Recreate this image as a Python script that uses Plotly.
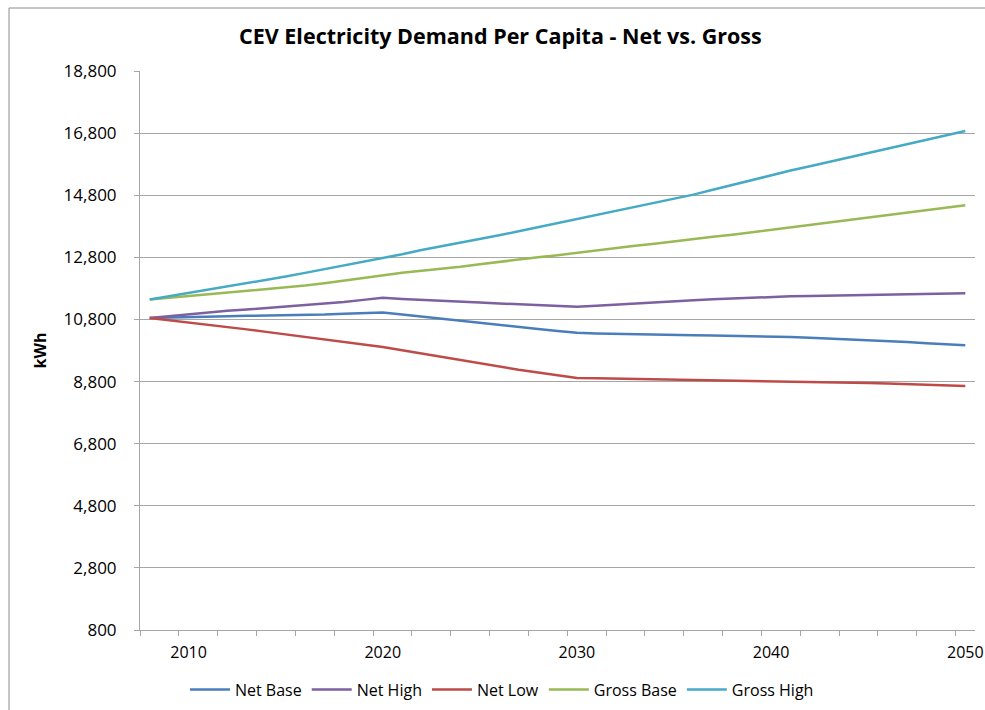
import plotly.graph_objects as go

years = list(range(2008, 2051))

net_base = [10850, 10870, 10890, 10900, 10906, 10915, 10925, 10930, 10940, 10960,
            10985, 11005, 11026, 10960, 10890, 10820, 10750, 10685, 10616, 10555,
            10490, 10430, 10368, 10350, 10335, 10320, 10310, 10300, 10294, 10285,
            10277, 10270, 10261, 10235, 10210, 10185, 10160, 10132, 10100, 10070,
            10035, 10000, 9971]
net_high = [10850, 10910, 10970, 11020, 11077, 11120, 11170, 11215, 11260, 11300,
            11360, 11430, 11497, 11460, 11425, 11400, 11370, 11345, 11316, 11290,
            11265, 11235, 11206, 11240, 11280, 11320, 11360, 11390, 11420, 11450,
            11475, 11500, 11530, 11545, 11555, 11565, 11575, 11585, 11595, 11605,
            11620, 11635, 11640]
net_low = [10850, 10780, 10700, 10630, 10561, 10480, 10400, 10320, 10239, 10140,
           10060, 9990, 9916, 9810, 9703, 9600, 9490, 9380, 9271, 9180,
           9090, 9000, 8916, 8905, 8895, 8890, 8880, 8872, 8865, 8855,
           8845, 8832, 8820, 8808, 8795, 8782, 8770, 8755, 8735, 8715,
           8695, 8675, 8658]
gross_base = [11445, 11500, 11555, 11605, 11655, 11710, 11765, 11825, 11890, 11965,
              12050, 12140, 12230, 12300, 12370, 12430, 12500, 12580, 12660, 12730,
              12800, 12870, 12950, 13020, 13090, 13170, 13240, 13320, 13390, 13460,
              13530, 13610, 13700, 13770, 13850, 13930, 14010, 14090, 14160, 14240,
              14320, 14400, 14477]
gross_high = [11445, 11550, 11650, 11750, 11850, 11960, 12070, 12180, 12300, 12420,
              12530, 12650, 12770, 12900, 13035, 13150, 13270, 13390, 13510, 13640,
              13770, 13900, 14026, 14150, 14280, 14410, 14550, 14690, 14820, 14975,
              15130, 15290, 15455, 15595, 15735, 15875, 16015, 16155, 16295, 16435,
              16575, 16720, 16865]

series_names = ["Net Base", "Net High", "Net Low", "Gross Base", "Gross High"]
series_vals = [net_base, net_high, net_low, gross_base, gross_high]
colors = ["#4A7EBB", "#7D60A0", "#BE4B48", "#98B954", "#46AAC5"]

y_ticks = list(range(800, 18801, 2000))
x_label_years = [2010, 2020, 2030, 2040, 2050]

fig = go.Figure()
for name, vals, c in zip(series_names, series_vals, colors):
    fig.add_trace(go.Scatter(x=years, y=vals, mode="lines", name=name,
                             line=dict(color=c, width=2.5)))

font_family = "Open Sans, Liberation Sans, Arial, sans-serif"

fig.update_layout(
    width=985, height=710,
    margin=dict(l=140, r=10, t=71, b=80, autoexpand=False),
    paper_bgcolor="white", plot_bgcolor="white",
    font=dict(family=font_family, size=16, color="#000000"),
    title=dict(text="<b>CEV Electricity Demand Per Capita - Net vs. Gross</b>",
               x=0.508, xanchor="center", y=0.948, yanchor="middle",
               font=dict(size=21.5, family=font_family, color="#000000")),
    showlegend=True,
    legend=dict(orientation="h", x=0.4335, xanchor="center", y=-0.076, yanchor="top",
                font=dict(size=16, family=font_family), itemwidth=40,
                traceorder="normal"),
    xaxis=dict(range=[2007.5, 2050.5], tickmode="array", tickvals=x_label_years,
               ticktext=[str(v) for v in x_label_years], ticks="",
               showgrid=False, zeroline=False, showline=True,
               linecolor="#A6A6A6", linewidth=1,
               tickfont=dict(size=16), ticklabelstandoff=8,
               minor=dict(tickmode="linear", tick0=2007.5, dtick=2, ticks="outside",
                          ticklen=5, tickcolor="#A6A6A6", showgrid=False)),
    yaxis=dict(range=[800, 18800], tickmode="array", tickvals=y_ticks,
               ticktext=[f"{v:,}" for v in y_ticks],
               showgrid=True, gridcolor="#A6A6A6", gridwidth=1,
               zeroline=False, showline=True, linecolor="#A6A6A6", linewidth=1,
               ticks="outside", ticklen=5, tickcolor="#A6A6A6",
               tickfont=dict(size=17), ticklabelstandoff=14,
               title=dict(text="<b>kWh</b>", font=dict(size=16), standoff=12)),
)

# outer chart border (top and left visible)
fig.add_shape(type="line", xref="paper", yref="paper",
              x0=(9 - 140) / 835, x1=(985 - 140) / 835,
              y0=(630 - 8) / 559, y1=(630 - 8) / 559,
              line=dict(color="#8C8C8C", width=1))
fig.add_shape(type="line", xref="paper", yref="paper",
              x0=(9 - 140) / 835, x1=(9 - 140) / 835,
              y0=(630 - 8) / 559, y1=(630 - 712) / 559,
              line=dict(color="#8C8C8C", width=1))

fig.write_html("out.html", config={"displayModeBar": False},
               post_script="document.body.style.margin='0';document.body.style.overflow='hidden';")
